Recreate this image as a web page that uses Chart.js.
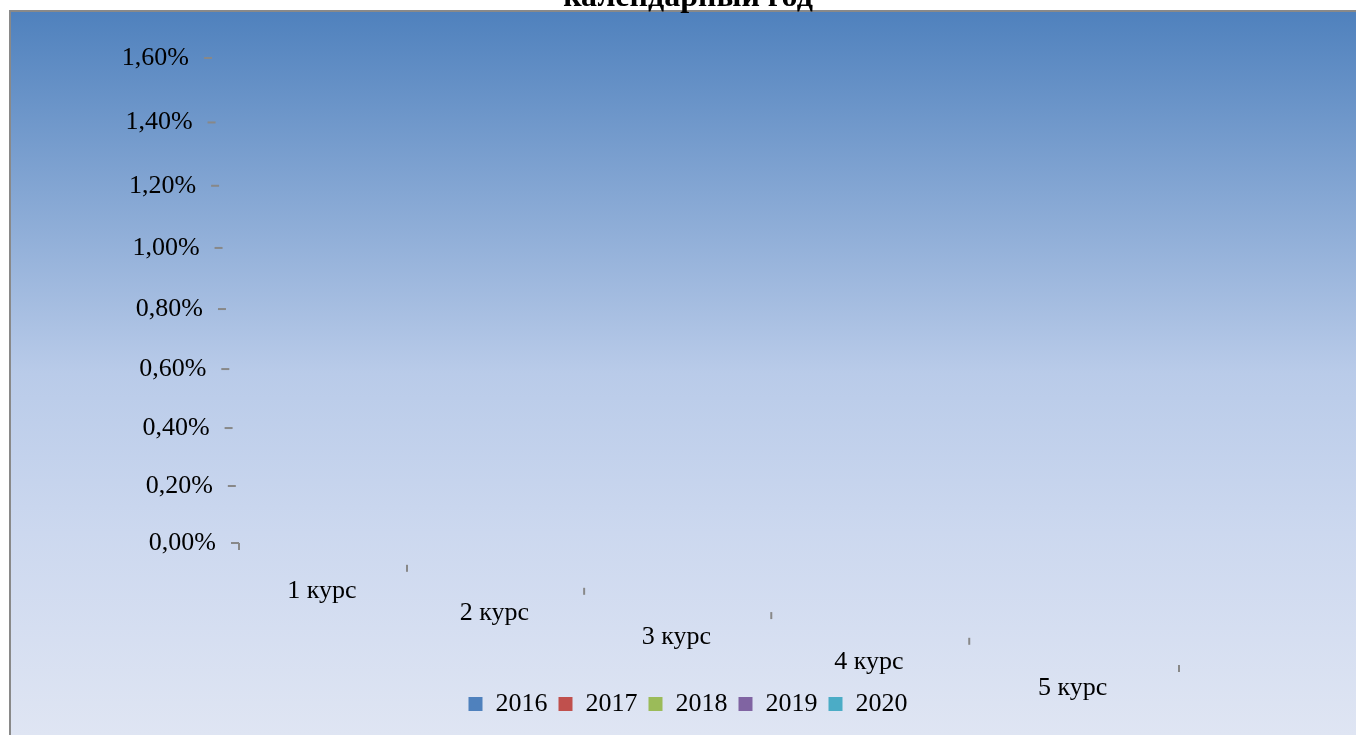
<!DOCTYPE html>
<html lang="ru">
<head>
    <meta charset="UTF-8">
    <title>Курсы по годам</title>
    <script src="https://cdn.jsdelivr.net/npm/chart.js"></script>
    <style>
        html, body { margin: 0; padding: 0; background: #fff; overflow: hidden; }
        #wrap { width: 1356px; height: 735px; }
    </style>
</head>
<body>
<div id="wrap"><canvas id="grafico" width="1356" height="735"></canvas></div>

<script>
// данные
const kursy = ['1 курс', '2 курс', '3 курс', '4 курс', '5 курс'];
const gody = ['2016', '2017', '2018', '2019', '2020'];
const dolya2016 = [0, 0, 0, 0, 0];
const dolya2017 = [0, 0, 0, 0, 0];
const dolya2018 = [0, 0, 0, 0, 0];
const dolya2019 = [0, 0, 0, 0, 0];
const dolya2020 = [0, 0, 0, 0, 0];
const yTicks = [0, 0.2, 0.4, 0.6, 0.8, 1.0, 1.2, 1.4, 1.6];

const tsveta = ['#4F81BD', '#C0504D', '#9BBB59', '#8064A2', '#4BACC6'];
const serif = '"Liberation Serif", "Times New Roman", serif';

// простая перспектива: сжатие ближнего края
function persp(t, c) {
    return t / (1 + c * (1 - t));
}

const fonPlugin = {
    id: 'fon',
    beforeDraw(chart) {
        const ctx = chart.ctx;
        ctx.save();
        ctx.fillStyle = '#fff';
        ctx.fillRect(0, 0, chart.width, chart.height);
        const g = ctx.createLinearGradient(0, 11, 0, chart.height);
        g.addColorStop(0, '#4F81BD');
        g.addColorStop(0.5, '#B9CBE9');
        g.addColorStop(0.72, '#CCD8EF');
        g.addColorStop(1, '#DFE5F3');
        ctx.fillStyle = g;
        ctx.fillRect(10, 11, chart.width - 10, chart.height - 11);
        ctx.strokeStyle = '#898989';
        ctx.lineWidth = 2;
        ctx.beginPath();
        ctx.moveTo(10, chart.height);
        ctx.lineTo(10, 11);
        ctx.lineTo(chart.width, 11);
        ctx.stroke();
        ctx.restore();
    }
};

// оси в перспективе (как 3D-диаграмма Excel)
const osiPlugin = {
    id: 'osi',
    afterDraw(chart) {
        const ctx = chart.ctx;
        const {left, right, top, bottom} = chart.chartArea;
        const ys = chart.scales.y;
        const xs = chart.scales.x;
        const k = 0.0557;   // наклон оси значений
        const s = 0.1298;   // наклон оси категорий

        ctx.save();
        ctx.strokeStyle = '#888';
        ctx.lineWidth = 2;
        ctx.fillStyle = '#000';
        ctx.font = '26px ' + serif;

        // ось Y
        ctx.textAlign = 'right';
        ctx.textBaseline = 'middle';
        yTicks.forEach(v => {
            const py0 = ys.getPixelForValue(v);
            const u = (bottom - py0) / (bottom - top);
            const py = bottom - persp(u, 0.073) * (bottom - top);
            const ax = left - k * (bottom - py);
            ctx.beginPath();
            ctx.moveTo(ax - 8, py);
            ctx.lineTo(ax, py);
            ctx.stroke();
            ctx.fillText(v.toFixed(2).replace('.', ',') + '%', ax - 23, py);
        });

        // ось X
        const toX = px => {
            const t = (px - left) / (right - left);
            return left + persp(t, 0.149) * (right - left);
        };
        ctx.textAlign = 'center';
        for (let i = -1; i < kursy.length; i++) {
            const bx = toX(xs.getPixelForValue(i + 0.5));
            const by = bottom + s * (bx - left);
            ctx.beginPath();
            ctx.moveTo(bx, by);
            ctx.lineTo(bx, by + 7);
            ctx.stroke();
        }
        kursy.forEach((lab, i) => {
            const cx = toX(xs.getPixelForValue(i));
            const cy = bottom + s * (cx - left);
            ctx.fillText(lab, cx, cy + 37);
        });
        ctx.restore();
    }
};

const nabory = [dolya2016, dolya2017, dolya2018, dolya2019, dolya2020].map((d, i) => ({
    label: gody[i],
    data: d,
    backgroundColor: tsveta[i],
    borderWidth: 0,
    yAxisID: 'y'
}));

const skryto = {
    ticks: { display: false },
    grid: { display: false },
    border: { display: false }
};

new Chart(document.getElementById('grafico'), {
    type: 'bar',
    data: { labels: kursy, datasets: nabory },
    options: {
        responsive: false,
        animation: false,
        layout: { padding: { left: 20, right: 0, top: 0, bottom: 8 } },
        scales: {
            x: { ...skryto, afterFit: sc => { sc.height = 137; } },
            y: { ...skryto, min: 0, max: 1.6, position: 'left', afterFit: sc => { sc.width = 219; } },
            y2: { ...skryto, min: 0, max: 1.6, position: 'right', afterFit: sc => { sc.width = 177; } }
        },
        plugins: {
            title: {
                display: true,
                text: 'календарный год',
                color: '#000',
                font: { family: serif, size: 32, weight: 'bold' },
                padding: { top: -21, bottom: 40.6 }
            },
            legend: {
                position: 'bottom',
                labels: {
                    color: '#000',
                    font: { family: serif, size: 26 },
                    boxWidth: 14,
                    boxHeight: 14,
                    padding: 11
                }
            },
            tooltip: { enabled: false }
        }
    },
    plugins: [fonPlugin, osiPlugin]
});
</script>
</body>
</html>
